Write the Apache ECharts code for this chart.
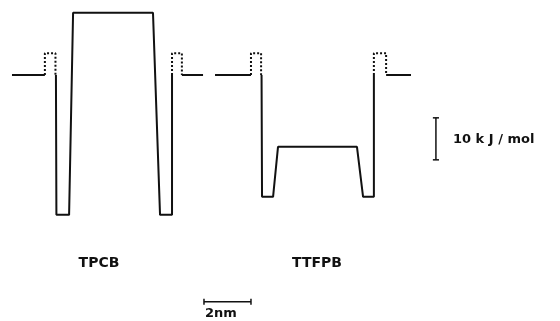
<!DOCTYPE html>
<html>
<head>
<meta charset="utf-8">
<script src="https://cdn.jsdelivr.net/npm/echarts@6/dist/echarts.min.js"></script>
<style>html,body{margin:0;padding:0;background:#fff}#c{width:560px;height:321px}</style>
</head>
<body>
<div id="c"></div>
<script>
// x in nm, energy in kJ/mol (0 = bulk level)
const tpcbSolid = [
  [[0.51, 0], [1.91, 0]],
  [[2.38, 0], [2.40, -33.3], [2.94, -33.3], [3.11, 14.8], [6.51, 14.8], [6.81, -33.3], [7.32, -33.3], [7.32, 0]],
  [[7.74, 0], [8.64, 0]]
];
const tpcbDotted = [
  [[1.91, 0], [1.91, 5.2], [2.36, 5.2], [2.36, 0]],
  [[7.32, 0], [7.32, 5.2], [7.74, 5.2], [7.74, 0]]
];
const ttfpbSolid = [
  [[9.15, 0], [10.68, 0]],
  [[11.13, 0], [11.15, -29.0], [11.62, -29.0], [11.83, -17.1], [15.19, -17.1], [15.45, -29.0], [15.91, -29.0], [15.91, 0]],
  [[16.43, 0], [17.49, 0]]
];
const ttfpbDotted = [
  [[10.68, 0], [10.68, 5.2], [11.11, 5.2], [11.11, 0]],
  [[15.91, 0], [15.91, 5.2], [16.43, 5.2], [16.43, 0]]
];
// scale bars: 10 kJ/mol and 2 nm
const energyBar = [[[18.55, -10.2], [18.55, -20.2]], [[18.42, -10.2], [18.68, -10.2]], [[18.42, -20.2], [18.68, -20.2]]];
const lengthBar = [[[8.68, -54.0], [10.68, -54.0]], [[8.68, -53.3], [8.68, -54.7]], [[10.68, -53.3], [10.68, -54.7]]];
const labels = ['TPCB', 'TTFPB', '2nm', '10 k J / mol'];

const series = [];
function add(segs, type, w) {
  segs.forEach(s => series.push({
    type: 'line', data: s, showSymbol: false, silent: true, animation: false,
    lineStyle: { color: '#111', width: w, type: type }
  }));
}
add(tpcbSolid, 'solid', 2);
add(tpcbDotted, 'dotted', 2);
add(ttfpbSolid, 'solid', 2);
add(ttfpbDotted, 'dotted', 2);
add(energyBar, 'solid', 1.5);
add(lengthBar, 'solid', 1.5);

const font = { fontFamily: 'DejaVu Sans', fontWeight: 'bold', fill: '#111' };
const chart = echarts.init(document.getElementById('c'));
chart.setOption({
  animation: false,
  grid: { left: 0, right: 0, top: 0, bottom: 0 },
  xAxis: { type: 'value', min: 0, max: 560 / 23.5, show: false },
  yAxis: { type: 'value', min: -246 / 4.2, max: 75 / 4.2, show: false },
  series: series,
  graphic: [
    { type: 'text', x: 99, y: 263, style: Object.assign({ text: labels[0], fontSize: 14, align: 'center', verticalAlign: 'middle' }, font) },
    { type: 'text', x: 317, y: 263, style: Object.assign({ text: labels[1], fontSize: 14, align: 'center', verticalAlign: 'middle' }, font) },
    { type: 'text', x: 205, y: 314, style: Object.assign({ text: labels[2], fontSize: 13, align: 'left', verticalAlign: 'middle' }, font) },
    { type: 'text', x: 453, y: 140, style: Object.assign({ text: labels[3], fontSize: 13, align: 'left', verticalAlign: 'middle' }, font) }
  ]
});
</script>
</body>
</html>
